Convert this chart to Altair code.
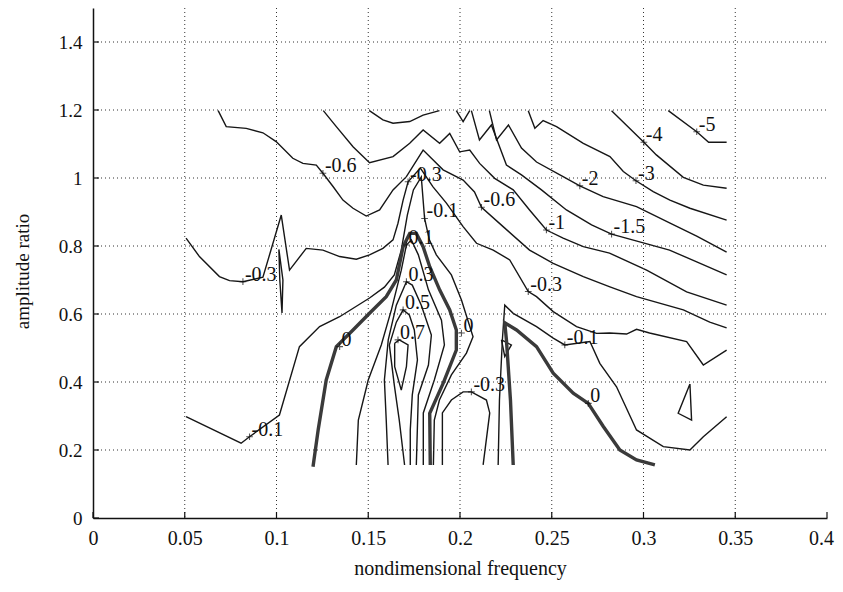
import altair as alt
import pandas as pd

# ---------------- data ----------------
X_TICKS = [0, 0.05, 0.1, 0.15, 0.2, 0.25, 0.3, 0.35, 0.4]
Y_TICKS = [0, 0.2, 0.4, 0.6, 0.8, 1.0, 1.2, 1.4]
X_GRID = [0.05, 0.1, 0.15, 0.2, 0.25, 0.3, 0.35]
Y_GRID = [0.2, 0.4, 0.6, 0.8, 1.0, 1.2, 1.4]

C_M5 = [(0.3135, 1.198), (0.329, 1.136), (0.3355, 1.105), (0.3453, 1.105)]
C_M4 = [(0.2826, 1.198), (0.3002, 1.105), (0.307, 1.068), (0.3217, 1.002), (0.3326, 0.979), (0.3453, 0.970)]
C_M3 = [(0.2372, 1.198), (0.2408, 1.146), (0.2453, 1.169), (0.2526, 1.151), (0.2672, 1.102), (0.2817, 1.063),
        (0.289, 1.019), (0.2959, 0.992), (0.3053, 0.96), (0.3144, 0.935), (0.3253, 0.911), (0.3453, 0.876)]
C_M2 = [(0.216, 1.198), (0.2199, 1.112), (0.2264, 1.156), (0.2335, 1.088), (0.2417, 1.047), (0.2562, 1.004),
        (0.2653, 0.977), (0.278, 0.945), (0.2962, 0.916), (0.3142, 0.868), (0.329, 0.829), (0.3453, 0.782)]
C_M15 = [(0.2062, 1.198), (0.2106, 1.112), (0.2171, 1.156), (0.2253, 1.038), (0.2335, 1.009), (0.2444, 0.965),
         (0.258, 0.906), (0.2717, 0.862), (0.2826, 0.835), (0.2999, 0.809), (0.3142, 0.788), (0.329, 0.753),
         (0.3453, 0.715)]
C_M1 = [(0.1255, 1.198), (0.1326, 1.151), (0.1417, 1.092), (0.1507, 1.045), (0.1635, 1.063), (0.1726, 1.102),
        (0.1799, 1.141), (0.1889, 1.102), (0.1944, 1.131), (0.1998, 1.077), (0.2053, 1.082), (0.2107, 1.043),
        (0.2189, 0.999), (0.229, 0.965), (0.2379, 0.906), (0.2471, 0.847), (0.2562, 0.823), (0.2672, 0.798),
        (0.2815, 0.779), (0.3017, 0.729), (0.3235, 0.665), (0.3453, 0.626)]
C_M06 = [(0.0682, 1.198), (0.0726, 1.151), (0.0835, 1.146), (0.0926, 1.133), (0.0998, 1.107), (0.1089, 1.058),
         (0.1144, 1.043), (0.1217, 1.038), (0.1253, 1.014), (0.1308, 0.975), (0.1362, 0.935), (0.1417, 0.911),
         (0.1489, 0.888), (0.1562, 0.906), (0.1635, 0.965), (0.1708, 1.004), (0.1799, 1.082), (0.1908, 1.024),
         (0.2017, 0.994), (0.2079, 0.959), (0.2117, 0.914), (0.2235, 0.857), (0.2379, 0.788), (0.2508, 0.749),
         (0.2672, 0.71), (0.2817, 0.68), (0.2962, 0.651), (0.3217, 0.612), (0.3361, 0.576), (0.3453, 0.559)]
C_M03 = [(0.0507, 0.823), (0.058, 0.769), (0.0689, 0.71), (0.0744, 0.698), (0.0817, 0.695), (0.0926, 0.708),
         (0.1026, 0.891), (0.1071, 0.729), (0.1162, 0.793), (0.1253, 0.788), (0.1344, 0.769), (0.1435, 0.761),
         (0.1507, 0.774), (0.158, 0.793), (0.1635, 0.818), (0.1662, 0.867), (0.169, 0.935), (0.1717, 0.989),
         (0.1784, 1.029), (0.1853, 0.974), (0.1926, 0.926), (0.2017, 0.857), (0.209, 0.808), (0.2181, 0.788),
         (0.2271, 0.759), (0.2372, 0.666), (0.2417, 0.651), (0.2508, 0.607), (0.2635, 0.563), (0.2744, 0.543),
         (0.2815, 0.544), (0.2908, 0.541), (0.2962, 0.555), (0.3033, 0.544), (0.3235, 0.519), (0.3326, 0.45),
         (0.3453, 0.494)]
C_M03_SLIVER = [(0.1013, 0.79), (0.1035, 0.70), (0.103, 0.603), (0.1018, 0.70), (0.1013, 0.79)]
C_M03_U = [(0.1904, 0.156), (0.1904, 0.309), (0.1953, 0.347), (0.2017, 0.371), (0.2062, 0.371), (0.2144, 0.347),
           (0.2162, 0.309), (0.2126, 0.156)]
C_M01A = [(0.0507, 0.298), (0.0807, 0.22), (0.0853, 0.239), (0.1016, 0.303), (0.1125, 0.504), (0.1235, 0.563),
          (0.1344, 0.592), (0.1507, 0.647), (0.1588, 0.679), (0.1642, 0.715), (0.168, 0.788), (0.1713, 0.891),
          (0.1746, 0.965), (0.1789, 1.003), (0.1807, 0.881), (0.1833, 0.818), (0.1871, 0.774), (0.1953, 0.715),
          (0.2008, 0.641), (0.2071, 0.533), (0.2035, 0.485), (0.1953, 0.421), (0.1888, 0.347), (0.186, 0.288),
          (0.1855, 0.156)]
C_M01B = [(0.2208, 0.156), (0.2215, 0.347), (0.2231, 0.524), (0.2244, 0.626), (0.229, 0.602), (0.2417, 0.563),
          (0.2508, 0.529), (0.2571, 0.509), (0.2708, 0.519), (0.2762, 0.455), (0.2853, 0.386), (0.2962, 0.259),
          (0.3108, 0.21), (0.3253, 0.2), (0.3326, 0.239), (0.3453, 0.298)]
C_0A = [(0.1199, 0.151), (0.1227, 0.259), (0.1271, 0.406), (0.1326, 0.504), (0.1417, 0.553), (0.1507, 0.602),
        (0.1598, 0.651), (0.1653, 0.7), (0.169, 0.798), (0.1726, 0.837), (0.1762, 0.837), (0.1799, 0.798),
        (0.1835, 0.739), (0.1889, 0.671), (0.1944, 0.612), (0.198, 0.553), (0.198, 0.494), (0.1908, 0.396),
        (0.1835, 0.308), (0.1838, 0.156)]
C_0B = [(0.229, 0.156), (0.2275, 0.347), (0.2253, 0.524), (0.2244, 0.574), (0.2308, 0.553), (0.2417, 0.504),
        (0.2508, 0.426), (0.2617, 0.367), (0.2699, 0.337), (0.2781, 0.269), (0.2871, 0.2), (0.2962, 0.171),
        (0.3062, 0.156)]
C_P01 = [(0.1435, 0.156), (0.1446, 0.288), (0.15, 0.406), (0.1571, 0.509), (0.1626, 0.612), (0.168, 0.729),
         (0.1708, 0.803), (0.1735, 0.818), (0.1773, 0.774), (0.1828, 0.671), (0.1899, 0.582), (0.1915, 0.509),
         (0.186, 0.406), (0.18, 0.309), (0.18, 0.156)]
C_P03 = [(0.1608, 0.156), (0.1598, 0.288), (0.1588, 0.406), (0.1609, 0.524), (0.1653, 0.626), (0.1708, 0.695),
         (0.174, 0.685), (0.1789, 0.626), (0.1844, 0.538), (0.1828, 0.45), (0.1773, 0.362), (0.1762, 0.156)]
C_P05 = [(0.1698, 0.156), (0.1669, 0.288), (0.1642, 0.391), (0.1615, 0.509), (0.1653, 0.576), (0.169, 0.612),
         (0.1724, 0.597), (0.1751, 0.553), (0.1768, 0.465), (0.1740, 0.362), (0.1729, 0.259), (0.1729, 0.156)]
C_P07 = [(0.1644, 0.514), (0.1669, 0.524), (0.1717, 0.509), (0.1708, 0.445), (0.168, 0.376), (0.1644, 0.445),
         (0.1644, 0.514)]
C_LOOP_A = [(0.2226, 0.524), (0.228, 0.509), (0.2244, 0.475), (0.2226, 0.524)]
C_TRI = [(0.3253, 0.394), (0.3189, 0.308), (0.3262, 0.288), (0.3253, 0.394)]
C_TOP_U = [(0.1506, 1.198), (0.158, 1.171), (0.1635, 1.161), (0.1726, 1.166), (0.1799, 1.185), (0.1888, 1.198)]
C_TOP_V = [(0.198, 1.198), (0.2017, 1.166), (0.2053, 1.198)]

THIN = [C_M5, C_M4, C_M3, C_M2, C_M15, C_M1, C_M06, C_M03, C_M03_SLIVER, C_M03_U, C_M01A, C_M01B,
        C_P01, C_P03, C_P05, C_P07, C_LOOP_A, C_TRI, C_TOP_U, C_TOP_V]
THICK = [C_0A, C_0B]

LABEL_TEXT = ["-5", "-4", "-3", "-2", "-1.5", "-1", "-0.6", "-0.6", "-0.3", "-0.3", "-0.3", "-0.3",
              "-0.1", "-0.1", "-0.1", "0", "0", "0", "0.1", "0.3", "0.5", "0.7"]
LABEL_X = [0.329, 0.3002, 0.2959, 0.2653, 0.2826, 0.2471, 0.1253, 0.2117, 0.0817, 0.1717, 0.2372, 0.2062,
           0.0853, 0.1807, 0.2571, 0.1344, 0.2008, 0.2699, 0.1708, 0.1708, 0.169, 0.1662]
LABEL_Y = [1.136, 1.105, 0.992, 0.977, 0.835, 0.847, 1.014, 0.914, 0.695, 0.989, 0.666, 0.371,
           0.239, 0.881, 0.509, 0.504, 0.544, 0.337, 0.803, 0.695, 0.612, 0.524]


def to_frame(lines):
    rows = []
    for i, pts in enumerate(lines):
        for j, (xv, yv) in enumerate(pts):
            rows.append({"cid": i, "ord": j, "x": xv, "y": yv})
    return pd.DataFrame(rows)


thin_df = to_frame(THIN)
thick_df = to_frame(THICK)
lab_df = pd.DataFrame({"x": LABEL_X, "y": LABEL_Y, "t": LABEL_TEXT})
vg_df = pd.DataFrame({"x": X_GRID})
hg_df = pd.DataFrame({"y": Y_GRID})
xt_df = pd.DataFrame({"x": X_TICKS})
yt_df = pd.DataFrame({"y": Y_TICKS})

W, H = 734, 510
FONT = "Liberation Serif"
xs = alt.Scale(domain=[0, 0.4], nice=False, zero=False)
ys = alt.Scale(domain=[0, 1.5], nice=False, zero=False)

AX_X = alt.Axis(
    values=X_TICKS, format="~g", grid=False, ticks=False, domainColor="#111", domainWidth=1.5,
    labelFont=FONT, labelFontSize=20, labelColor="#111", labelPadding=10, labelFlush=False,
    labelOffset={"condition": {"test": "datum.value >= 0.399", "value": -6}, "value": 0},
    title="nondimensional frequency", titleFont=FONT, titleFontSize=20, titleFontWeight="normal",
    titleColor="#111", titleX=W / 2, titleY=50, titleBaseline="middle")
AX_Y = alt.Axis(
    values=Y_TICKS, format="~g", grid=False, ticks=False, domainColor="#111", domainWidth=1.5,
    labelFont=FONT, labelFontSize=19, labelColor="#111", labelPadding=11, labelFlush=False,
    title="amplitude ratio", titleFont=FONT, titleFontSize=19, titleFontWeight="normal",
    titleColor="#111", titleX=-71, titleY=H / 2 + 8, titleBaseline="middle", titleAngle=-90)

X = alt.X("x:Q", scale=xs, axis=AX_X)
Y = alt.Y("y:Q", scale=ys, axis=AX_Y)

vgrid = alt.Chart(vg_df).mark_rule(color="#333", strokeWidth=1, strokeDash=[1, 3]).encode(
    x=X, y=alt.value(0), y2=alt.value(H))
hgrid = alt.Chart(hg_df).mark_rule(color="#333", strokeWidth=1, strokeDash=[1, 3]).encode(
    y=Y, x=alt.value(0), x2=alt.value(W))
yticks = alt.Chart(yt_df).mark_rule(color="#111", strokeWidth=1.2).encode(
    y=Y, x=alt.value(0), x2=alt.value(6))
xticks = alt.Chart(xt_df).mark_rule(color="#111", strokeWidth=1.2).encode(
    x=X, y=alt.value(H), y2=alt.value(H - 6))

thin = alt.Chart(thin_df).mark_line(color="#161616", strokeWidth=1.4).encode(
    x=X, y=Y, detail="cid:N", order="ord:Q")
thick = alt.Chart(thick_df).mark_line(color="#3a3a3a", strokeWidth=3.4).encode(
    x=X, y=Y, detail="cid:N", order="ord:Q")

marks = alt.Chart(lab_df).mark_point(
    shape="M-1,0L1,0M0,-1L0,1", size=45, color="#111", strokeWidth=1.1, filled=False).encode(x=X, y=Y)
texts = alt.Chart(lab_df).mark_text(
    font=FONT, fontSize=20, color="#111", align="left", baseline="alphabetic", dx=2, dy=-1).encode(
    x=X, y=Y, text="t:N")

chart = alt.layer(thin, vgrid, hgrid, thick, yticks, xticks, marks, texts).properties(
    width=W, height=H,
    autosize=alt.AutoSizeParams(type="none"),
    padding={"left": 85, "top": 0, "right": 8, "bottom": 66},
).configure_view(stroke=None)

chart.save("out.html", embed_options={"renderer": "svg", "actions": False})
